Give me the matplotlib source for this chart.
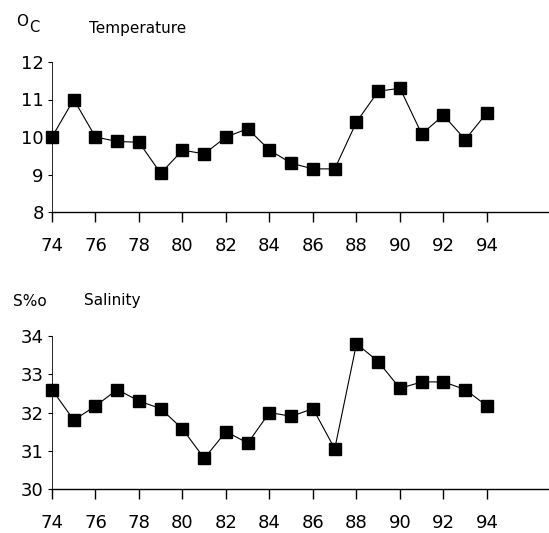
import numpy as np
import matplotlib.pyplot as plt

years = np.arange(74, 95)
temperature = [10.0, 11.0, 10.0, 9.88, 9.86, 9.03, 9.65, 9.55, 10.0, 10.22, 9.65,
               9.3, 9.15, 9.15, 10.4, 11.22, 11.3, 10.08, 10.58, 9.93, 10.65]
salinity = [32.6, 31.8, 32.17, 32.6, 32.3, 32.1, 31.57, 30.8, 31.5, 31.2, 32.0,
            31.9, 32.1, 31.05, 33.8, 33.33, 32.63, 32.8, 32.8, 32.6, 32.17]
xticks = np.arange(74, 95, 2)

W, H = 549, 533
fig = plt.figure(figsize=(W / 100, H / 100), dpi=100)


def panel(bottom_px, top_px, values, ylim, yticks):
    left = 52 / W
    ax = fig.add_axes([left, 1 - bottom_px / H, 1 - left, (bottom_px - top_px) / H])
    ax.plot(years, values, color="black", lw=0.8, marker="s", ms=8.5,
            mfc="black", mec="black", clip_on=False)
    ax.set_xlim(74, 74 + 497 / 21.75)
    ax.set_ylim(*ylim)
    ax.set_xticks(xticks)
    ax.set_yticks(yticks)
    for s in ["top", "right"]:
        ax.spines[s].set_visible(False)
    ax.spines["left"].set_linewidth(0.6)
    ax.spines["bottom"].set_linewidth(1.0)
    ax.tick_params(axis="x", direction="out", length=7, width=1, pad=11, labelsize=13)
    ax.tick_params(axis="y", direction="out", length=3, width=0.8, pad=3, labelsize=13)
    return ax


panel(212, 62, temperature, (8, 12), [8, 9, 10, 11, 12])
panel(489, 336, salinity, (30, 34), [30, 31, 32, 33, 34])

fig.text(16 / W, 1 - 21 / H, "O", fontsize=11, va="center", ha="left")
fig.text(29 / W, 1 - 28 / H, "C", fontsize=10.5, va="center", ha="left")
fig.text(89 / W, 1 - 28 / H, "Temperature", fontsize=11, va="center", ha="left")
fig.text(13 / W, 1 - 301 / H, "S%o", fontsize=11, va="center", ha="left")
fig.text(84 / W, 1 - 301 / H, "Salinity", fontsize=11, va="center", ha="left")

fig.savefig("out.png", dpi=100)
